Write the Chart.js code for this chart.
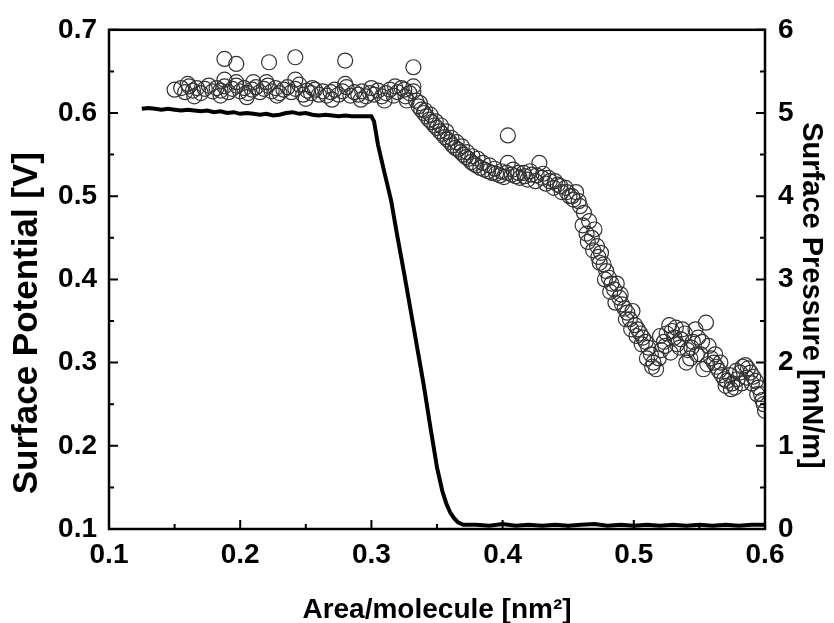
<!DOCTYPE html>
<html>
<head>
<meta charset="utf-8">
<script src="https://cdn.jsdelivr.net/npm/chart.js@4.4.0/dist/chart.umd.min.js"></script>
<style>
  html, body { margin: 0; padding: 0; background: #fff; }
  #wrap { width: 834px; height: 623px; }
</style>
</head>
<body>
<div id="wrap"><canvas id="isotherm"></canvas></div>
<script>
// surface potential (open circles, left axis)
var potentialArea = [
  0.150, 0.155, 0.158, 0.161, 0.164, 0.167, 0.170, 0.173, 0.176, 0.179,
  0.182, 0.185, 0.188, 0.191, 0.194, 0.197, 0.200, 0.203, 0.206, 0.209,
  0.212, 0.215, 0.218, 0.221, 0.224, 0.227, 0.230, 0.233, 0.236, 0.239,
  0.242, 0.245, 0.248, 0.251, 0.254, 0.257, 0.260, 0.263, 0.266, 0.269,
  0.272, 0.275, 0.278, 0.281, 0.284, 0.287, 0.290, 0.293, 0.296, 0.299,
  0.302, 0.305, 0.308, 0.311, 0.314, 0.317, 0.320, 0.323, 0.326, 0.329,
  0.332,
  0.188, 0.197, 0.222, 0.242, 0.280, 0.332,
  0.188, 0.197, 0.220, 0.242, 0.280, 0.332, 0.160, 0.210, 0.255, 0.300, 0.318, 0.325,
  0.165, 0.185, 0.205, 0.228, 0.250, 0.270, 0.292, 0.310, 0.327,
  0.334, 0.336, 0.338, 0.340, 0.342, 0.344, 0.346, 0.348, 0.350, 0.352,
  0.354, 0.356, 0.358, 0.360, 0.362, 0.364, 0.366, 0.368, 0.370, 0.372,
  0.374, 0.376, 0.378, 0.380, 0.383, 0.386, 0.389, 0.392, 0.395, 0.398,
  0.401, 0.404, 0.404, 0.407, 0.410, 0.413, 0.416, 0.419, 0.422, 0.425,
  0.428, 0.430, 0.433, 0.436, 0.439, 0.442, 0.445, 0.448, 0.451, 0.454,
  0.456, 0.459, 0.462, 0.464, 0.466, 0.468, 0.470, 0.472, 0.473, 0.475,
  0.477, 0.479, 0.481, 0.483, 0.485, 0.487, 0.489, 0.491, 0.493, 0.495,
  0.497, 0.499, 0.501, 0.503, 0.505, 0.507, 0.509, 0.511, 0.513, 0.515,
  0.517, 0.519, 0.521, 0.523, 0.525, 0.527, 0.529, 0.531, 0.533, 0.535,
  0.537, 0.539, 0.541, 0.543, 0.545, 0.547, 0.549, 0.551, 0.553, 0.555,
  0.557, 0.559, 0.561, 0.563, 0.565, 0.567, 0.569, 0.571, 0.573, 0.575,
  0.577, 0.579, 0.581, 0.583, 0.585, 0.587, 0.589, 0.591, 0.593, 0.595,
  0.597, 0.599, 0.600,
  0.337, 0.341, 0.345, 0.349, 0.353, 0.357, 0.361, 0.365, 0.369, 0.373,
  0.377, 0.381, 0.385, 0.390, 0.394, 0.399, 0.403, 0.408, 0.412, 0.417,
  0.421, 0.426, 0.431, 0.435, 0.440, 0.444, 0.449, 0.453, 0.458, 0.461,
  0.465, 0.469, 0.474, 0.478, 0.482, 0.486, 0.490, 0.494, 0.498, 0.502,
  0.506, 0.510, 0.514, 0.520, 0.524, 0.528, 0.532, 0.536, 0.540, 0.544,
  0.548, 0.552, 0.556, 0.562, 0.566, 0.570, 0.574, 0.578, 0.582, 0.586,
  0.590, 0.594, 0.598
];
var potentialValue = [
  0.628, 0.630, 0.625, 0.632, 0.627, 0.630, 0.624, 0.629, 0.633, 0.626,
  0.630, 0.627, 0.632, 0.625, 0.629, 0.633, 0.626, 0.630, 0.624, 0.628,
  0.631, 0.625, 0.629, 0.633, 0.626, 0.630, 0.624, 0.628, 0.631, 0.625,
  0.629, 0.634, 0.622, 0.627, 0.624, 0.628, 0.622, 0.626, 0.621, 0.625,
  0.628, 0.622, 0.626, 0.631, 0.621, 0.625, 0.622, 0.626, 0.620, 0.624,
  0.622, 0.627, 0.620, 0.624, 0.628, 0.621, 0.625, 0.630, 0.620, 0.624,
  0.626,
  0.665, 0.659, 0.661, 0.667, 0.663, 0.655,
  0.640, 0.637, 0.637, 0.640, 0.635, 0.632, 0.635, 0.637, 0.630, 0.630, 0.632, 0.628,
  0.620, 0.621, 0.619, 0.621, 0.617, 0.616, 0.616, 0.615, 0.615,
  0.615, 0.608, 0.604, 0.600, 0.596, 0.592, 0.589, 0.585, 0.582, 0.578,
  0.575, 0.571, 0.568, 0.565, 0.561, 0.558, 0.556, 0.553, 0.550, 0.547,
  0.545, 0.541, 0.539, 0.537, 0.534, 0.532, 0.530, 0.528, 0.527, 0.525,
  0.523, 0.573, 0.540, 0.526, 0.524, 0.522, 0.528, 0.520, 0.526, 0.518,
  0.540, 0.522, 0.515, 0.518, 0.510, 0.514, 0.505, 0.510, 0.500, 0.496,
  0.505, 0.488, 0.480, 0.455, 0.470, 0.450, 0.460, 0.440, 0.427, 0.432,
  0.418, 0.410, 0.402, 0.395, 0.388, 0.395, 0.378, 0.370, 0.365, 0.360,
  0.352, 0.362, 0.345, 0.340, 0.335, 0.330, 0.325, 0.318, 0.310, 0.300,
  0.292, 0.305, 0.315, 0.325, 0.335, 0.345, 0.338, 0.330, 0.322, 0.318,
  0.340, 0.335, 0.315, 0.305, 0.325, 0.340, 0.330, 0.310, 0.292, 0.348,
  0.320, 0.305, 0.300, 0.295, 0.290, 0.285, 0.280, 0.278, 0.285, 0.275,
  0.270, 0.280, 0.288, 0.295, 0.297, 0.293, 0.288, 0.283, 0.278, 0.270,
  0.262, 0.250, 0.242,
  0.612, 0.603, 0.598, 0.590, 0.585, 0.578, 0.570, 0.565, 0.560, 0.553,
  0.548, 0.545, 0.540, 0.537, 0.533, 0.530, 0.528, 0.532, 0.528, 0.524,
  0.530, 0.525, 0.527, 0.522, 0.518, 0.512, 0.505, 0.500, 0.494, 0.465,
  0.445, 0.435, 0.420, 0.400, 0.385, 0.372, 0.382, 0.352, 0.340, 0.332,
  0.322, 0.305, 0.295, 0.332, 0.320, 0.312, 0.342, 0.328, 0.300, 0.318,
  0.310, 0.325, 0.298, 0.310, 0.300, 0.272, 0.268, 0.290, 0.275, 0.282,
  0.275, 0.262, 0.255
];

// surface pressure (solid line, right axis)
var pressureArea = [
  0.125, 0.130, 0.135, 0.140, 0.145, 0.150, 0.155, 0.160, 0.165, 0.170,
  0.175, 0.180, 0.185, 0.190, 0.195, 0.200, 0.205, 0.210, 0.215, 0.220,
  0.225, 0.230, 0.235, 0.240, 0.245, 0.250, 0.255, 0.260, 0.265, 0.270,
  0.275, 0.280, 0.285, 0.290, 0.295, 0.300, 0.302, 0.305, 0.310, 0.315,
  0.320, 0.325, 0.330, 0.335, 0.340, 0.345, 0.350, 0.354, 0.357, 0.360,
  0.363, 0.366, 0.370, 0.380, 0.390, 0.400, 0.410, 0.420, 0.430, 0.440,
  0.450, 0.460, 0.470, 0.480, 0.490, 0.500, 0.510, 0.520, 0.530, 0.540,
  0.550, 0.560, 0.570, 0.580, 0.590, 0.600
];
var pressureValue = [
  5.05, 5.06, 5.05, 5.04, 5.05, 5.04, 5.03, 5.04, 5.03, 5.02,
  5.03, 5.01, 5.02, 5.00, 5.01, 4.99, 5.00, 4.99, 4.98, 4.99,
  4.97, 4.98, 5.00, 5.01, 4.99, 5.00, 4.98, 4.97, 4.98, 4.97,
  4.96, 4.97, 4.96, 4.96, 4.96, 4.96, 4.90, 4.62, 4.28, 3.95,
  3.50, 3.07, 2.62, 2.17, 1.72, 1.22, 0.74, 0.46, 0.31, 0.20,
  0.13, 0.08, 0.05, 0.05, 0.04, 0.06, 0.04, 0.05, 0.04, 0.05,
  0.04, 0.05, 0.06, 0.04, 0.05, 0.04, 0.05, 0.04, 0.05, 0.04,
  0.05, 0.04, 0.05, 0.04, 0.05, 0.05
];

var xTicks = [0.1, 0.2, 0.3, 0.4, 0.5, 0.6];
var potentialTicks = [0.1, 0.2, 0.3, 0.4, 0.5, 0.6, 0.7];
var pressureTicks = [0, 1, 2, 3, 4, 5, 6];

function toPoints(xs, ys) {
  return xs.map(function (x, i) { return { x: x, y: ys[i] }; });
}

var fontFamily = "'Liberation Sans', Arial, sans-serif";

// frame plus inward major/minor tick marks
var frameTicks = {
  id: 'frameTicks',
  afterDraw: function (chart) {
    var c = chart.ctx, a = chart.chartArea;
    var sx = chart.scales.x, sy = chart.scales.y, sy1 = chart.scales.y1;
    c.save();
    c.strokeStyle = '#000';
    c.lineWidth = 2.5;
    c.strokeRect(a.left, a.top, a.right - a.left, a.bottom - a.top);
    c.lineWidth = 2;
    c.beginPath();
    xTicks.forEach(function (v, i) {
      var px = sx.getPixelForValue(v);
      c.moveTo(px, a.bottom); c.lineTo(px, a.bottom - 9);
      if (i < xTicks.length - 1) {
        var m = sx.getPixelForValue(v + 0.05);
        c.moveTo(m, a.bottom); c.lineTo(m, a.bottom - 5);
      }
    });
    potentialTicks.forEach(function (v, i) {
      var py = sy.getPixelForValue(v);
      c.moveTo(a.left, py); c.lineTo(a.left + 9, py);
      if (i < potentialTicks.length - 1) {
        var m = sy.getPixelForValue(v + 0.05);
        c.moveTo(a.left, m); c.lineTo(a.left + 5, m);
      }
    });
    pressureTicks.forEach(function (v, i) {
      var py = sy1.getPixelForValue(v);
      c.moveTo(a.right, py); c.lineTo(a.right - 9, py);
      if (i < pressureTicks.length - 1) {
        var m = sy1.getPixelForValue(v + 0.5);
        c.moveTo(a.right, m); c.lineTo(a.right - 5, m);
      }
    });
    c.stroke();
    c.restore();
  }
};

var ctx = document.getElementById('isotherm');

var myChart = new Chart(ctx, {
  type: 'scatter',
  data: {
    datasets: [{
      label: 'Surface Pressure',
      data: toPoints(pressureArea, pressureValue),
      yAxisID: 'y1',
      showLine: true,
      borderColor: '#000',
      borderWidth: 4,
      pointRadius: 0,
      tension: 0
    }, {
      label: 'Surface Potential',
      data: toPoints(potentialArea, potentialValue),
      yAxisID: 'y',
      showLine: false,
      pointRadius: 7.5,
      pointBorderWidth: 1.2,
      pointBorderColor: '#333',
      pointBackgroundColor: 'rgba(255,255,255,0)'
    }]
  },
  options: {
    responsive: true,
    maintainAspectRatio: false,
    animation: false,
    layout: { padding: { top: 23, left: 0, right: 0, bottom: 0 } },
    plugins: { legend: { display: false }, tooltip: { enabled: false } },
    scales: {
      x: {
        type: 'linear',
        min: 0.1, max: 0.6,
        afterFit: function (s) { s.height = 94; },
        afterBuildTicks: function (s) { s.ticks = xTicks.map(function (v) { return { value: v }; }); },
        grid: { display: false, drawTicks: false },
        border: { display: false },
        ticks: {
          padding: 9, color: '#000',
          font: { family: fontFamily, size: 28, weight: 'bold' },
          callback: function (v) { return v.toFixed(1); }
        },
        title: {
          display: true, text: 'Area/molecule [nm\u00B2]', color: '#000',
          font: { family: fontFamily, size: 28, weight: 'bold', lineHeight: 0.9 },
          padding: { top: 0, bottom: 0 }
        }
      },
      y: {
        type: 'linear', position: 'left',
        min: 0.1, max: 0.7,
        afterFit: function (s) { s.width = 109; },
        afterBuildTicks: function (s) { s.ticks = potentialTicks.map(function (v) { return { value: v }; }); },
        grid: { display: false, drawTicks: false },
        border: { display: false },
        ticks: {
          padding: 12, color: '#000',
          font: { family: fontFamily, size: 28, weight: 'bold' },
          callback: function (v) { return v.toFixed(1); }
        },
        title: {
          display: true, text: 'Surface Potential [V]         ', color: '#000',
          font: { family: fontFamily, size: 35, weight: 'bold' },
          padding: { top: 6, bottom: 0 }
        }
      },
      y1: {
        type: 'linear', position: 'right',
        min: 0, max: 6,
        afterFit: function (s) { s.width = 69; },
        afterBuildTicks: function (s) { s.ticks = pressureTicks.map(function (v) { return { value: v }; }); },
        grid: { display: false, drawTicks: false },
        border: { display: false },
        ticks: {
          padding: 13, color: '#000',
          font: { family: fontFamily, size: 28, weight: 'bold' },
          callback: function (v) { return String(v); }
        },
        title: {
          display: true, text: '    Surface Pressure [mN/m]', color: '#000',
          font: { family: fontFamily, size: 29, weight: 'bold' },
          padding: { top: 6, bottom: 0 }
        }
      }
    }
  },
  plugins: [frameTicks]
});
</script>
</body>
</html>
